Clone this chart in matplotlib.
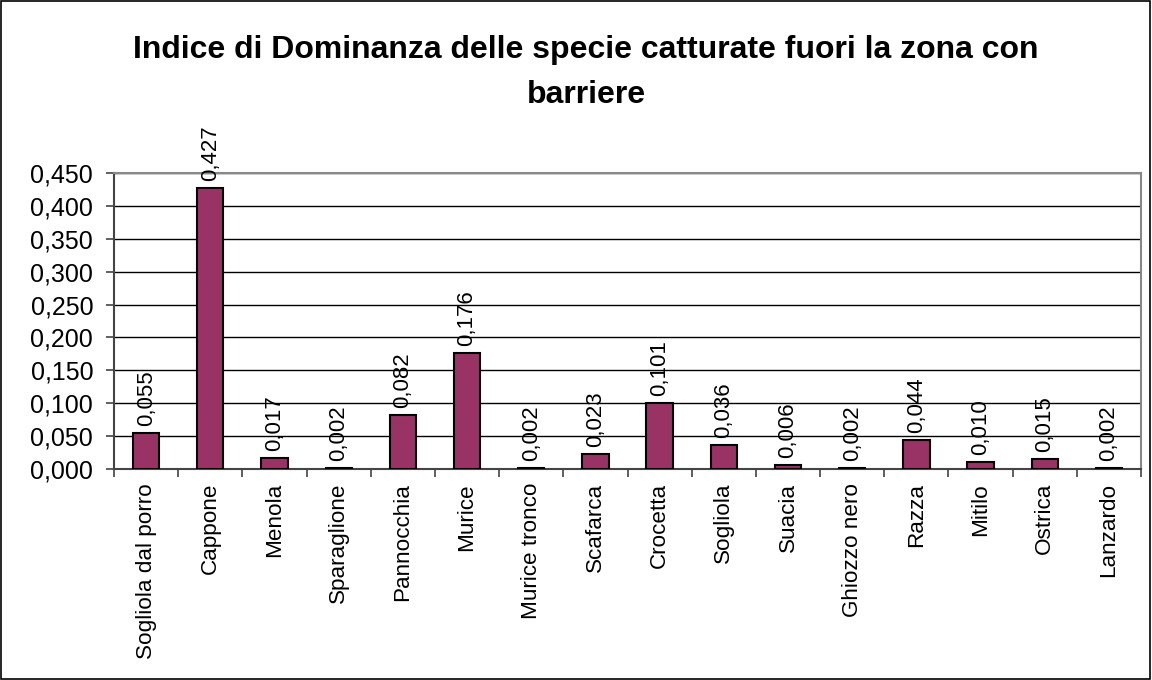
import matplotlib.pyplot as plt
import numpy as np
from matplotlib.patches import Rectangle

# Dati: indice di dominanza per specie (fuori zona barriere)
specie = ['Sogliola dal porro', 'Cappone', 'Menola', 'Sparaglione',
          'Pannocchia', 'Murice', 'Murice tronco', 'Scafarca', 'Crocetta',
          'Sogliola', 'Suacia', 'Ghiozzo nero', 'Razza', 'Mitilo',
          'Ostrica', 'Lanzardo']
dominanza = [0.055, 0.427, 0.017, 0.002, 0.082, 0.176, 0.002, 0.023,
             0.101, 0.036, 0.006, 0.002, 0.044, 0.010, 0.015, 0.002]
yticks = np.arange(0, 0.451, 0.05)

plt.rcParams['font.family'] = ['Liberation Sans', 'DejaVu Sans']

fig = plt.figure(figsize=(11.52, 6.8), dpi=100)
ax = fig.add_axes([0.099, 0.3103, 0.8915, 0.4353])

x = np.arange(len(specie))
ax.bar(x, dominanza, width=0.41, color='#993366', edgecolor='black',
       linewidth=1.5, zorder=3)

# etichette dei valori, ruotate sopra le barre
for xi, v in zip(x, dominanza):
    ax.annotate('{:.3f}'.format(v).replace('.', ','), (xi, v),
                xytext=(0, 5), textcoords='offset points',
                rotation=90, ha='center', va='bottom', fontsize=16)

ax.set_xlim(-0.5, len(specie) - 0.5)
ax.set_ylim(0, 0.45)
ax.set_yticks(yticks)
ax.set_yticklabels(['{:.3f}'.format(t).replace('.', ',') for t in yticks],
                   fontsize=18)
ax.yaxis.grid(True, color='black', linewidth=1.0, zorder=0)
ax.tick_params(axis='y', direction='out', length=6, width=1.2,
               color='#444444', pad=9)

# categorie: etichette al centro, tacche tra le categorie
ax.set_xticks(x)
ax.set_xticklabels(specie, rotation=90, fontsize=16.2)
ax.tick_params(axis='x', length=0, pad=10)
ax.set_xticks(np.arange(-0.5, len(specie)), minor=True)
ax.tick_params(axis='x', which='minor', direction='out', length=6,
               width=1.2, color='#444444')

for side in ['top', 'right']:
    ax.spines[side].set_color('#888888')
    ax.spines[side].set_linewidth(1.5)
ax.spines['left'].set_color('#444444')
ax.spines['bottom'].set_color('#444444')
ax.spines['left'].set_linewidth(1.5)
ax.spines['bottom'].set_linewidth(1.5)

fig.text(0.5087, 1 - 50 / 680,
         'Indice di Dominanza delle specie catturate fuori la zona con',
         ha='center', va='center', fontsize=23, fontweight='bold')
fig.text(0.5087, 1 - 95 / 680, 'barriere',
         ha='center', va='center', fontsize=23, fontweight='bold')

# cornice esterna
fig.patches.append(Rectangle((0.0005, 0.0008), 0.998, 0.998,
                             transform=fig.transFigure, fill=False,
                             edgecolor='black', linewidth=1.2))

plt.savefig('out.png', dpi=100)
